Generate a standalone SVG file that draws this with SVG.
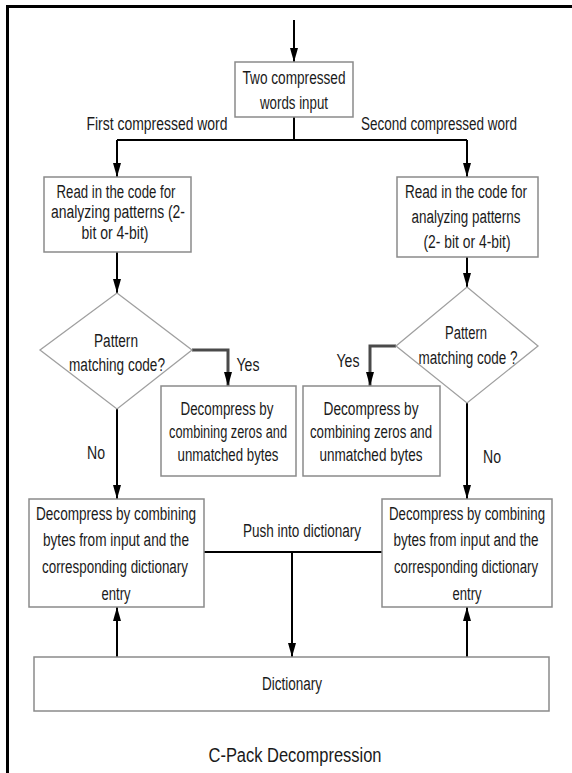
<svg xmlns="http://www.w3.org/2000/svg" width="572" height="773" viewBox="0 0 572 773">
<style>
.box{fill:#fff;stroke:#8a8a8a;stroke-width:1.5}
.dia{fill:#fff;stroke:#a0a0a0;stroke-width:1.3}
.t{font-family:"Liberation Sans",Arial,sans-serif;font-size:18px;fill:#1a1a1a;text-anchor:middle}
.c{fill:none;stroke:#000;stroke-width:2}
.y{fill:none;stroke:#4a4a4a;stroke-width:3}
</style>
<defs>
<marker id="ah" viewBox="0 0 14 8" refX="14" refY="4" markerWidth="14" markerHeight="8" markerUnits="userSpaceOnUse" orient="auto">
<path d="M0,0 L14,4 L0,8 z" fill="#000"/>
</marker>
</defs>
<rect width="572" height="773" fill="#fff"/>
<path d="M7.5,773 V6.5 H572" fill="none" stroke="#000" stroke-width="3"/>
<g id="connectors">
<path class="c" d="M294,20 V62" marker-end="url(#ah)"/>
<path class="c" d="M294,117 V140 M117,140 H467"/>
<path class="c" d="M117,140 V177" marker-end="url(#ah)"/>
<path class="c" d="M467,140 V177" marker-end="url(#ah)"/>
<path class="c" d="M117,252 V293" marker-end="url(#ah)"/>
<path class="c" d="M467,257 V287" marker-end="url(#ah)"/>
<path class="y" d="M192,350 H228 V386" marker-end="url(#ah)"/>
<path class="y" d="M396,346 H370 V386" marker-end="url(#ah)"/>
<path class="c" d="M117,409 V499" marker-end="url(#ah)"/>
<path class="c" d="M467,403 V499" marker-end="url(#ah)"/>
<path class="c" d="M204,552 H382"/>
<path class="c" d="M292,552 V657" marker-end="url(#ah)"/>
<path class="c" d="M117,657 V607" marker-end="url(#ah)"/>
<path class="c" d="M467,657 V607" marker-end="url(#ah)"/>
<text class="t" x="157" y="130" textLength="141" lengthAdjust="spacingAndGlyphs">First compressed word</text>
<text class="t" x="439" y="130" textLength="156" lengthAdjust="spacingAndGlyphs">Second compressed word</text>
<text class="t" x="248" y="371" textLength="23" lengthAdjust="spacingAndGlyphs">Yes</text>
<text class="t" x="348" y="367" textLength="23" lengthAdjust="spacingAndGlyphs">Yes</text>
<text class="t" x="96" y="459" textLength="18" lengthAdjust="spacingAndGlyphs">No</text>
<text class="t" x="492" y="463" textLength="18" lengthAdjust="spacingAndGlyphs">No</text>
<text class="t" x="302" y="537" textLength="118" lengthAdjust="spacingAndGlyphs">Push into dictionary</text>
</g>
<g id="n_input">
<rect class="box" x="235" y="62" width="118" height="55"/>
<text class="t" x="294" y="84" textLength="103" lengthAdjust="spacingAndGlyphs">Two compressed</text>
<text class="t" x="294" y="109" textLength="68" lengthAdjust="spacingAndGlyphs">words input</text>
</g>
<g id="n_read1">
<rect class="box" x="44" y="177" width="147" height="75"/>
<text class="t" x="116" y="198" textLength="119" lengthAdjust="spacingAndGlyphs">Read in the code for</text>
<text class="t" x="118" y="218" textLength="134" lengthAdjust="spacingAndGlyphs">analyzing patterns (2-</text>
<text class="t" x="115" y="239" textLength="67" lengthAdjust="spacingAndGlyphs">bit or 4-bit)</text>
</g>
<g id="n_read2">
<rect class="box" x="397" y="177" width="141" height="80"/>
<text class="t" x="466" y="198" textLength="122" lengthAdjust="spacingAndGlyphs">Read in the code for</text>
<text class="t" x="466" y="223" textLength="109" lengthAdjust="spacingAndGlyphs">analyzing patterns</text>
<text class="t" x="467" y="248" textLength="87" lengthAdjust="spacingAndGlyphs">(2- bit or 4-bit)</text>
</g>
<g id="n_dia1">
<polygon class="dia" points="117,293 192,350 117,409 40,350"/>
<text class="t" x="116" y="347" textLength="44" lengthAdjust="spacingAndGlyphs">Pattern</text>
<text class="t" x="117" y="371" textLength="96" lengthAdjust="spacingAndGlyphs">matching code?</text>
</g>
<g id="n_dia2">
<polygon class="dia" points="467,287 538,346 467,403 396,346"/>
<text class="t" x="466" y="339" textLength="42" lengthAdjust="spacingAndGlyphs">Pattern</text>
<text class="t" x="468" y="364" textLength="99" lengthAdjust="spacingAndGlyphs">matching code ?</text>
</g>
<g id="n_yes1">
<rect class="box" x="161" y="386" width="135" height="90"/>
<text class="t" x="227" y="415" textLength="93" lengthAdjust="spacingAndGlyphs">Decompress by</text>
<text class="t" x="228" y="438" textLength="118" lengthAdjust="spacingAndGlyphs">combining zeros and</text>
<text class="t" x="228" y="461" textLength="101" lengthAdjust="spacingAndGlyphs">unmatched bytes</text>
</g>
<g id="n_yes2">
<rect class="box" x="303" y="386" width="137" height="90"/>
<text class="t" x="371" y="415" textLength="95" lengthAdjust="spacingAndGlyphs">Decompress by</text>
<text class="t" x="371" y="438" textLength="122" lengthAdjust="spacingAndGlyphs">combining zeros and</text>
<text class="t" x="371" y="461" textLength="103" lengthAdjust="spacingAndGlyphs">unmatched bytes</text>
</g>
<g id="n_dec1">
<rect class="box" x="29" y="499" width="175" height="108"/>
<text class="t" x="116" y="520" textLength="160" lengthAdjust="spacingAndGlyphs">Decompress by combining</text>
<text class="t" x="116" y="546" textLength="146" lengthAdjust="spacingAndGlyphs">bytes from input and the</text>
<text class="t" x="115" y="573" textLength="146" lengthAdjust="spacingAndGlyphs">corresponding dictionary</text>
<text class="t" x="116" y="600" textLength="29" lengthAdjust="spacingAndGlyphs">entry</text>
</g>
<g id="n_dec2">
<rect class="box" x="382" y="499" width="170" height="108"/>
<text class="t" x="467" y="520" textLength="156" lengthAdjust="spacingAndGlyphs">Decompress by combining</text>
<text class="t" x="466" y="546" textLength="145" lengthAdjust="spacingAndGlyphs">bytes from input and the</text>
<text class="t" x="466" y="573" textLength="144" lengthAdjust="spacingAndGlyphs">corresponding dictionary</text>
<text class="t" x="467" y="600" textLength="29" lengthAdjust="spacingAndGlyphs">entry</text>
</g>
<g id="n_dict">
<rect class="box" x="34" y="657" width="515" height="54"/>
<text class="t" x="292" y="690" textLength="60" lengthAdjust="spacingAndGlyphs">Dictionary</text>
</g>
<g id="title">
<text class="t" x="295" y="762" textLength="173" lengthAdjust="spacingAndGlyphs" style="font-size:20px">C-Pack Decompression</text>
</g>
</svg>
